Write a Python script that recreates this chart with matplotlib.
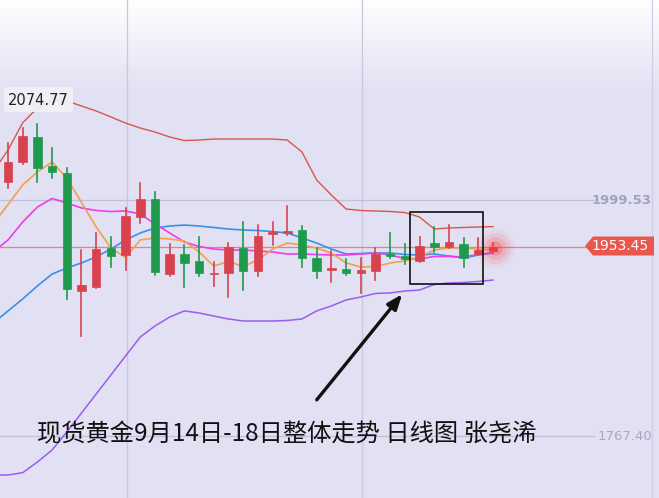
import matplotlib
matplotlib.use("Agg")
import matplotlib.pyplot as plt
import numpy as np
from matplotlib.patches import Rectangle, FancyBboxPatch, Polygon

plt.rcParams['font.family'] = ['Noto Sans CJK SC', 'DejaVu Sans']

# daily candles (open, high, low, close)
opens = [2017.5, 2036.6, 2061.8, 2033.0, 2025.8, 1910.3, 1914.2, 1952.0, 1945.4, 1983.1,
         2000.5, 1926.4, 1946.1, 1939.8, 1926.7, 1928.0, 1952.0, 1929.7, 1965.8, 1966.8,
         1970.0, 1942.2, 1930.7, 1931.7, 1928.0, 1929.7, 1946.4, 1944.4, 1939.5, 1956.9,
         1953.0, 1956.3, 1946.1, 1949.7]
highs = [2055.8, 2070.0, 2074.77, 2050.3, 2030.7, 1950.4, 1967.4, 1963.4, 1991.4, 2016.5,
         2007.1, 1956.3, 1955.3, 1963.4, 1938.8, 1956.9, 1978.2, 1974.9, 1977.6, 1993.9,
         1973.9, 1952.0, 1949.7, 1941.2, 1942.2, 1952.0, 1967.4, 1956.3, 1963.4, 1972.7,
         1974.9, 1961.9, 1961.9, 1956.9]
lows = [2011.0, 2035.0, 2016.9, 2020.9, 1901.9, 1865.7, 1913.4, 1933.9, 1930.7, 1977.2,
        1925.7, 1925.0, 1913.6, 1924.8, 1914.9, 1904.4, 1911.0, 1924.8, 1955.3, 1965.1,
        1933.9, 1923.1, 1918.6, 1925.7, 1908.3, 1920.8, 1942.2, 1936.6, 1938.8, 1948.7,
        1952.0, 1933.9, 1946.1, 1949.7]
closes = [2037.2, 2062.4, 2031.3, 2026.8, 1911.6, 1915.9, 1951.3, 1944.7, 1983.8, 2000.5,
          1929.0, 1946.4, 1937.9, 1928.0, 1927.7, 1953.0, 1929.7, 1964.1, 1968.1, 1969.0,
          1942.2, 1930.0, 1932.3, 1928.0, 1930.7, 1946.1, 1944.4, 1941.5, 1954.3, 1953.6,
          1958.5, 1942.2, 1950.35, 1953.45]

# indicator lines, one value per day starting one day before the first candle
ma5 = [1976.2, 1995.0, 2014.3, 2027.1, 2036.9, 2021.2, 1997.1, 1973.0, 1952.3, 1943.0,
       1960.2, 1962.2, 1961.2, 1959.2, 1948.4, 1934.6, 1939.0, 1934.1, 1940.5, 1951.3,
       1957.2, 1955.3, 1952.3, 1947.4, 1937.6, 1933.6, 1934.1, 1937.6, 1939.5, 1943.5,
       1950.4, 1952.3, 1952.3, 1951.3, 1950.4]
ma10 = [1948.4, 1960.2, 1977.9, 1992.6, 2001.0, 1996.6, 1991.7, 1989.2, 1988.2, 1988.7,
        1985.8, 1975.9, 1967.1, 1958.2, 1953.8, 1951.3, 1950.35, 1950.35, 1949.4, 1948.4,
        1946.4, 1946.4, 1945.9, 1945.4, 1945.4, 1946.4, 1947.4, 1945.4, 1942.0, 1941.5,
        1944.0, 1944.0, 1943.5, 1945.9, 1947.7]
boll_mid = [1878.5, 1890.4, 1902.2, 1915.0, 1926.7, 1932.6, 1937.6, 1943.5, 1951.3, 1960.2,
            1967.1, 1972.0, 1973.9, 1974.9, 1973.9, 1972.5, 1971.0, 1970.0, 1969.5, 1968.5,
            1967.1, 1962.2, 1957.2, 1951.3, 1946.4, 1946.9, 1947.4, 1947.4, 1945.9, 1945.4,
            1946.4, 1944.4, 1942.5, 1945.4, 1947.4]
boll_up = [2027.6, 2048.7, 2075.5, 2090.0, 2096.9, 2096.9, 2092.0, 2087.1, 2081.2, 2075.2,
           2070.3, 2066.4, 2061.5, 2058.0, 2058.5, 2059.5, 2059.5, 2059.5, 2059.5, 2059.5,
           2058.5, 2046.7, 2019.2, 2004.4, 1990.7, 1989.2, 1988.7, 1988.2, 1987.2, 1982.8,
           1971.0, 1972.0, 1972.5, 1973.0, 1973.3]
boll_low = [1729.0, 1729.0, 1731.3, 1741.8, 1753.6, 1771.3, 1790.0, 1808.7, 1827.4, 1846.1,
            1864.8, 1875.6, 1884.4, 1890.4, 1888.4, 1885.4, 1882.5, 1880.5, 1880.5, 1880.5,
            1881.0, 1882.5, 1890.4, 1895.3, 1901.2, 1904.1, 1907.6, 1908.1, 1910.0, 1911.0,
            1916.4, 1917.9, 1918.4, 1919.4, 1920.8]

max_label = "2074.77"
price_ticks = [1999.53, 1767.40]
last_price = 1953.45
title = "现货黄金9月14日-18日整体走势 日线图 张尧浠"

W, H = 659, 498
fig = plt.figure(figsize=(W / 100, H / 100), dpi=100)
ax = fig.add_axes([0, 0, 1, 1])
ax.set_xlim(-0.544, 44.29)
ax.set_ylim(1706.4, 2196.25)
ax.axis('off')


def px(x, y):
    # pixel position -> axes fraction
    return x / W, 1 - y / H


# background: white at the top fading into lavender
grad = np.ones((H, 1, 3))
top = np.array([1.0, 1.0, 1.0])
lav = np.array([0.89, 0.882, 0.955])
t = np.clip(np.arange(H) / 90.0, 0, 1)[:, None]
grad[:, 0, :] = top * (1 - t) + lav * t
ax.imshow(grad, extent=[0, 1, 0, 1], transform=ax.transAxes, aspect='auto', zorder=0)

# grid
for xg in [127, 362]:
    ax.plot([xg / W] * 2, [0, 1], transform=ax.transAxes, color='#c9c7de', lw=0.9, zorder=1)
ax.plot([652 / W] * 2, [0, 1], transform=ax.transAxes, color='#cfcde2', lw=0.9, zorder=1)
for p in price_ticks:
    ax.plot([-1, 39.9], [p, p], color='#c2c0d8', lw=0.9, zorder=1)
ax.plot([-1, 39.3], [last_price, last_price], color='#ef7f78', lw=0.9, zorder=2)

# indicator lines
xl = np.arange(-1, len(opens))
ax.plot(xl, boll_up, color='#d6584c', lw=1.0, zorder=3)
ax.plot(xl, boll_low, color='#9b5cf0', lw=1.1, zorder=3)
ax.plot(xl, boll_mid, color='#3d8fe8', lw=1.2, zorder=3)
ax.plot(xl, ma10, color='#ee3cee', lw=1.2, zorder=3)
ax.plot(xl, ma5, color='#f3a04a', lw=1.2, zorder=3)

# candles
up_col, dn_col = '#d8424f', '#1f9a4c'
for i, (o, h, l, c) in enumerate(zip(opens, highs, lows, closes)):
    col = up_col if c >= o else dn_col
    ax.plot([i, i], [l, h], color=col, lw=1.2, zorder=4)
    lo, hi = min(o, c), max(o, c)
    ax.add_patch(Rectangle((i - 0.29, lo), 0.58, max(hi - lo, 0.9), facecolor=col,
                           edgecolor=col, lw=0.5, zorder=5))

# glow on the last candle
n = len(opens) - 1
for r, a in [(800, 0.06), (500, 0.1), (260, 0.16), (100, 0.28)]:
    ax.scatter([n + 0.1], [last_price - 1], s=r, color='#ff3b3b', alpha=a, lw=0, zorder=6)

# highlight box and arrow
bx0, by0 = px(410, 284)
bx1, by1 = px(483, 212)
ax.add_patch(Rectangle((bx0, by0), bx1 - bx0, by1 - by0, transform=ax.transAxes,
                       fill=False, edgecolor='#111111', lw=1.2, zorder=7))
ax.annotate('', xy=px(404, 292), xytext=px(315, 402), xycoords='axes fraction',
            textcoords='axes fraction',
            arrowprops=dict(arrowstyle='-|>,head_length=0.9,head_width=0.35',
                            color='#111111', lw=2.4), zorder=7)

# max label
lx0, ly0 = px(4, 112)
lx1, ly1 = px(73, 87)
ax.add_patch(FancyBboxPatch((lx0, ly0), lx1 - lx0, ly1 - ly0, transform=ax.transAxes,
                            boxstyle='round,pad=0,rounding_size=0.006',
                            facecolor='#f1f0f7', edgecolor='none', alpha=0.95, zorder=8))
ax.text(*px(38.5, 100), max_label, transform=ax.transAxes, ha='center', va='center',
        fontsize=10.5, color='#222222', family='DejaVu Sans', zorder=9)

# right side price labels
ax.text(*px(652, 200), f"{price_ticks[0]:.2f}", transform=ax.transAxes, ha='right',
        va='center', fontsize=9.5, color='#a3a2bb', fontweight='bold',
        family='DejaVu Sans', zorder=9)
ax.text(*px(652, 436), f"{price_ticks[1]:.2f}", transform=ax.transAxes, ha='right',
        va='center', fontsize=9.5, color='#a9a8c0', family='DejaVu Sans', zorder=9)
tag = [px(585, 246), px(593, 236.5), px(654, 236.5), px(654, 255.5), px(593, 255.5)]
ax.add_patch(Polygon(tag, closed=True, transform=ax.transAxes, facecolor='#e9574c',
                     edgecolor='none', zorder=8))
ax.text(*px(620, 246.5), f"{last_price:.2f}", transform=ax.transAxes, ha='center',
        va='center', fontsize=10, color='white', family='DejaVu Sans', zorder=9)

# title
ax.text(*px(37, 434), title, transform=ax.transAxes, ha='left', va='center',
        fontsize=17.5, color='#111111', zorder=9)

fig.savefig('out.png', dpi=100)
